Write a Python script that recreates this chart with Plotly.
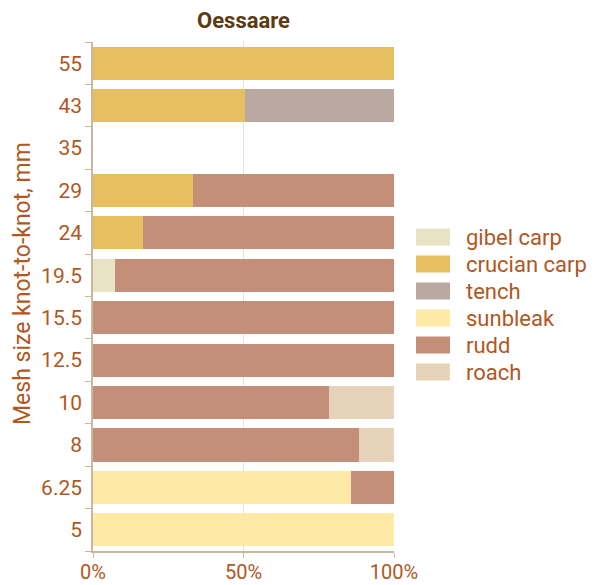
import plotly.graph_objects as go

categories = ["55", "43", "35", "29", "24", "19.5", "15.5", "12.5", "10", "8", "6.25", "5"]
gibel_carp = [0, 0, 0, 0, 0, 7.3, 0, 0, 0, 0, 0, 0]
crucian_carp = [100, 50.5, 0, 33.2, 16.6, 0, 0, 0, 0, 0, 0, 0]
tench = [0, 49.5, 0, 0, 0, 0, 0, 0, 0, 0, 0, 0]
sunbleak = [0, 0, 0, 0, 0, 0, 0, 0, 0, 0, 85.7, 100]
rudd = [0, 0, 0, 66.8, 83.4, 92.7, 100, 100, 78.4, 88.4, 14.3, 0]
roach = [0, 0, 0, 0, 0, 0, 0, 0, 21.6, 11.6, 0, 0]

series_names = ["gibel carp", "crucian carp", "tench", "sunbleak", "rudd", "roach"]
series_values = [gibel_carp, crucian_carp, tench, sunbleak, rudd, roach]
colors = ["#E8E3C5", "#E6BF60", "#BBA8A0", "#FEEAA6", "#C38F79", "#E6D3B9"]
x_ticks = [0, 50, 100]

TXT = "#B0581F"
AX = "#C9B89C"
FONT = "Roboto"

W, H = 595, 585
PL, PR, PT, PB = 93, 394, 42, 551


def px_x(x):
    return (x - PL) / (PR - PL)


def px_y(y):
    return (PB - y) / (PB - PT)


fig = go.Figure()
for name, vals, col in zip(series_names, series_values, colors):
    fig.add_trace(go.Bar(y=categories, x=vals, name=name, orientation="h",
                         marker=dict(color=col, line=dict(width=0)),
                         showlegend=False))

# custom legend (shapes + text)
lx0, lx1 = 416, 450
ly_start = 237
ldy = 27
for i, (name, col) in enumerate(zip(series_names, colors)):
    yc = ly_start + i * ldy
    fig.add_shape(type="rect", xref="paper", yref="paper",
                  x0=px_x(lx0), x1=px_x(lx1),
                  y0=px_y(yc + 8.5), y1=px_y(yc - 8.5),
                  fillcolor=col, line=dict(width=0))
    fig.add_annotation(xref="paper", yref="paper",
                       x=px_x(466), y=px_y(yc),
                       text=name, showarrow=False, xanchor="left", yanchor="middle",
                       xshift=-2,
                       font=dict(family=FONT, size=22, color=TXT))

# y-axis title
fig.add_annotation(xref="paper", yref="paper", x=px_x(22), y=px_y(284),
                   text="Mesh size knot-to-knot, mm", textangle=-90, showarrow=False,
                   xanchor="center", yanchor="middle",
                   font=dict(family=FONT, size=23, color=TXT))

fig.update_layout(
    barmode="stack",
    bargap=0.22,
    width=W, height=H,
    margin=dict(l=PL, r=W - PR, t=PT, b=H - PB, autoexpand=False),
    paper_bgcolor="white", plot_bgcolor="white",
    title=dict(text="<b>Oessaare</b>", x=(PL + PR) / 2 / W, xanchor="center",
               y=1 - 20 / H, yanchor="middle",
               font=dict(family=FONT, size=22, color="#5C3A12")),
    font=dict(family=FONT, color=TXT),
    showlegend=False,
)
fig.update_xaxes(range=[0, 100], tickvals=x_ticks, ticktext=[f"{v}%" for v in x_ticks],
                 showgrid=True, gridcolor="#E9E4DA", gridwidth=1,
                 showline=True, linecolor=AX, linewidth=1.5,
                 ticks="outside", ticklen=5, tickcolor=AX,
                 tickfont=dict(family=FONT, size=20, color=TXT), zeroline=False,
                 ticklabelstandoff=-3,
                 automargin=False)
fig.update_yaxes(categoryorder="array", categoryarray=categories[::-1],
                 tickson="boundaries", ticks="outside", ticklen=6, tickcolor=AX,
                 showline=True, linecolor=AX, linewidth=1.5, showgrid=False,
                 tickfont=dict(family=FONT, size=21, color=TXT),
                 ticklabelstandoff=5,
                 automargin=False)

fig.write_html("out.html", config={"displayModeBar": False},
               post_script="document.body.style.margin='0';document.body.style.overflow='hidden';")
